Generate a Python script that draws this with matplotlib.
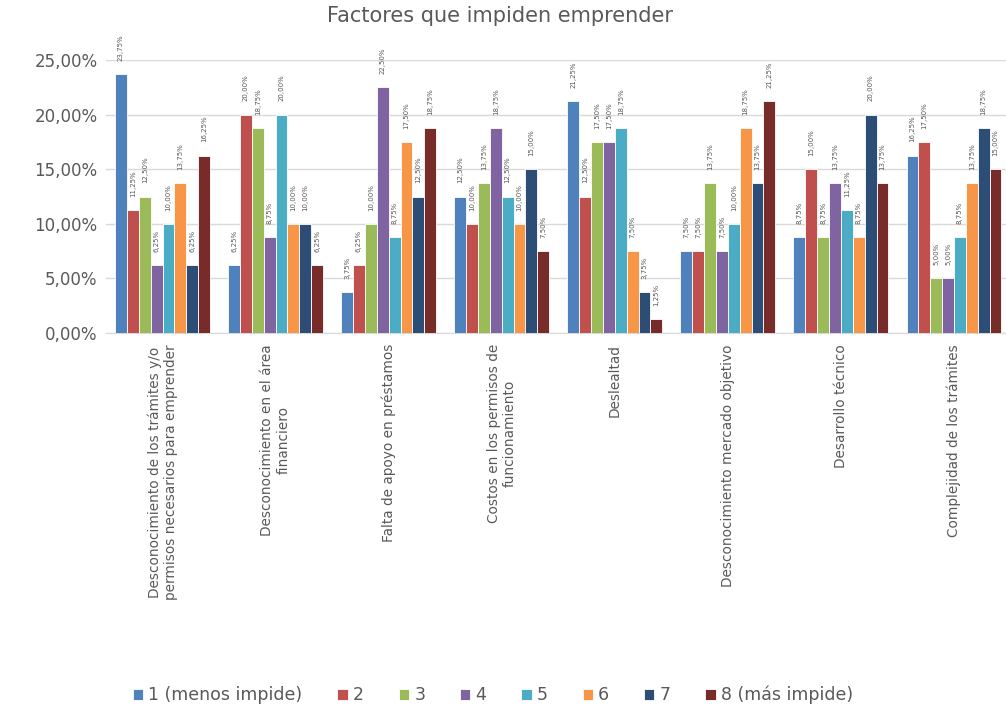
import numpy as np
import matplotlib.pyplot as plt

plt.rcParams['font.family'] = ['DejaVu Sans']

title = "Factores que impiden emprender"

categories = [
    "Desconocimiento de los trámites y/o\npermisos necesarios para emprender",
    "Desconocimiento en el área\nfinanciero",
    "Falta de apoyo en préstamos",
    "Costos en los permisos de\nfuncionamiento",
    "Deslealtad",
    "Desconocimiento mercado objetivo",
    "Desarrollo técnico",
    "Complejidad de los trámites",
]

series_names = ["1 (menos impide)", "2", "3", "4", "5", "6", "7", "8 (más impide)"]

# percentages per rank, one list per category
s1 = [23.75, 6.25, 3.75, 12.50, 21.25, 7.50, 8.75, 16.25]
s2 = [11.25, 20.00, 6.25, 10.00, 12.50, 7.50, 15.00, 17.50]
s3 = [12.50, 18.75, 10.00, 13.75, 17.50, 13.75, 8.75, 5.00]
s4 = [6.25, 8.75, 22.50, 18.75, 17.50, 7.50, 13.75, 5.00]
s5 = [10.00, 20.00, 8.75, 12.50, 18.75, 10.00, 11.25, 8.75]
s6 = [13.75, 10.00, 17.50, 10.00, 7.50, 18.75, 8.75, 13.75]
s7 = [6.25, 10.00, 12.50, 15.00, 3.75, 13.75, 20.00, 18.75]
s8 = [16.25, 6.25, 18.75, 7.50, 1.25, 21.25, 13.75, 15.00]
series = [s1, s2, s3, s4, s5, s6, s7, s8]

colors = ["#4F81BD", "#C0504D", "#9BBB59", "#8064A2",
          "#4BACC6", "#F79646", "#2C4D75", "#772C2A"]

text_gray = "#595959"

fig = plt.figure(figsize=(10.06, 7.15), dpi=100)
ax = fig.add_axes([106 / 1006, 1 - 333 / 715, 1 - 106 / 1006, (333 - 60) / 715])

x = np.arange(len(categories))
width = 0.105
offsets = (np.arange(len(series)) - (len(series) - 1) / 2) * width

for i, (vals, col, name) in enumerate(zip(series, colors, series_names)):
    bars = ax.bar(x + offsets[i], vals, width, color=col, edgecolor="white",
                  linewidth=0.6, label=name, zorder=3)
    for b, v in zip(bars, vals):
        ax.text(b.get_x() + b.get_width() / 2, v + 1.2,
                f"{v:.2f}%".replace(".", ","), rotation=90,
                ha="center", va="bottom", fontsize=5, color=text_gray,
                clip_on=False)

ax.set_ylim(0, 25)
ax.set_xlim(-0.5, 7.46)
yt = np.arange(0, 26, 5)
ax.set_yticks(yt)
ax.set_yticklabels([f"{v:.2f}%".replace(".", ",") for v in yt],
                   fontsize=12, color=text_gray)
ax.set_xticks(x)
ax.set_xticklabels(categories, rotation=90, fontsize=9.8, color=text_gray,
                   ha="center", va="top", multialignment="center")
ax.tick_params(axis="both", length=0)
ax.tick_params(axis="y", pad=6)
ax.tick_params(axis="x", pad=8)
ax.grid(axis="y", color="#D9D9D9", linewidth=1, zorder=0)
for side in ["top", "right", "left"]:
    ax.spines[side].set_visible(False)
ax.spines["bottom"].set_color("#D9D9D9")

fig.text(0.497, 0.978, title, ha="center", va="center", fontsize=15,
         color=text_gray)

fig.legend(loc="center", bbox_to_anchor=(0.49, 0.028), ncol=8,
           frameon=False, fontsize=12.5, labelcolor=text_gray,
           handlelength=0.6, handleheight=0.6, handletextpad=0.3,
           columnspacing=2.0)

fig.savefig("out.png", dpi=100)
